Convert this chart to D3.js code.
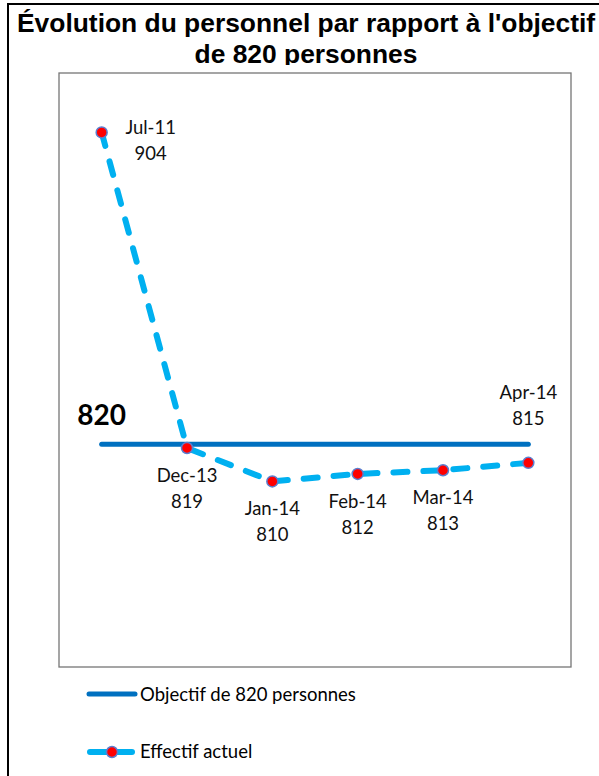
<!DOCTYPE html>
<html>
<head>
<meta charset="utf-8">
<script src="https://cdn.jsdelivr.net/npm/d3@7"></script>
<style>
  body { margin: 0; background: #fff; }
  svg { display: block; }
</style>
</head>
<body>
<script>
// data
var months = ["Jul-11", "Dec-13", "Jan-14", "Feb-14", "Mar-14", "Apr-14"];
var effectif = [904, 819, 810, 812, 813, 815];
var objectif = [820, 820, 820, 820, 820, 820];
var yDomain = [760, 920];
var titleLines = ["Évolution du personnel par rapport à l'objectif", "de 820 personnes"];
var legendNames = ["Objectif de 820 personnes", "Effectif actuel"];

var w = 599, h = 776;
var labelFont = "Lato, 'Open Sans', sans-serif";

var svg = d3.select("body").append("svg")
    .attr("width", w)
    .attr("height", h);

// outer frame (runs off the right and bottom of the picture)
svg.append("rect")
    .attr("x", 8).attr("y", 4)
    .attr("width", 800).attr("height", 900)
    .attr("fill", "none")
    .attr("stroke", "#000")
    .attr("stroke-width", 2);

// title, clipped at the bottom like in the original
svg.append("clipPath").attr("id", "titleclip")
  .append("rect").attr("x", 0).attr("y", 0).attr("width", w).attr("height", 65);

var title = svg.append("g").attr("clip-path", "url(#titleclip)");
title.append("text")
    .attr("x", 17).attr("y", 32)
    .attr("font-family", "'Liberation Sans', Arial, sans-serif")
    .attr("font-weight", "bold")
    .attr("font-size", "26.4px")
    .text(titleLines[0]);
title.append("text")
    .attr("x", 306).attr("y", 63)
    .attr("text-anchor", "middle")
    .attr("font-family", "'Liberation Sans', Arial, sans-serif")
    .attr("font-weight", "bold")
    .attr("font-size", "26.4px")
    .text(titleLines[1]);

// plot area
var plot = {left: 59, right: 571, top: 73, bottom: 667};

svg.append("rect")
    .attr("x", plot.left).attr("y", plot.top)
    .attr("width", plot.right - plot.left)
    .attr("height", plot.bottom - plot.top)
    .attr("fill", "none")
    .attr("stroke", "#767676")
    .attr("stroke-width", 1.3);

var x = d3.scaleBand()
    .domain(months)
    .range([plot.left, plot.right])
    .padding(0);

var y = d3.scaleLinear()
    .domain(yDomain)
    .range([plot.bottom, plot.top]);

var cx = function(d, i){ return x(months[i]) + x.bandwidth() / 2; };

var line = d3.line()
    .x(function(d, i){ return cx(d, i); })
    .y(function(d){ return y(d); });

// target line
svg.append("path")
    .datum(objectif)
    .attr("d", line)
    .attr("fill", "none")
    .attr("stroke", "#0070C0")
    .attr("stroke-width", 5)
    .attr("stroke-linecap", "round");

// actual staff, dashed
svg.append("path")
    .datum(effectif)
    .attr("d", line)
    .attr("fill", "none")
    .attr("stroke", "#00B0F0")
    .attr("stroke-width", 6)
    .attr("stroke-dasharray", "14,16")
    .attr("stroke-linecap", "round");

svg.selectAll("circle.pt")
    .data(effectif)
    .enter()
    .append("circle")
    .attr("class", "pt")
    .attr("cx", cx)
    .attr("cy", function(d){ return y(d); })
    .attr("r", 5.5)
    .attr("fill", "#FF0000")
    .attr("stroke", "#5B7FD0")
    .attr("stroke-width", 1.5);

// point labels: first to the right, last above, others below
var labels = svg.selectAll("text.lbl")
    .data(effectif)
    .enter()
    .append("text")
    .attr("class", "lbl")
    .attr("text-anchor", "middle")
    .attr("font-family", labelFont)
    .attr("font-size", "18.5px")
    .attr("fill", "#111")
    .attr("transform", function(d, i){
        var px = cx(d, i), py = y(d);
        if (i === 0) return "translate(" + (px + 49) + "," + (py + 2) + ")";
        if (i === effectif.length - 1) return "translate(" + px + "," + (py - 64) + ")";
        return "translate(" + px + "," + (py + 34) + ")";
    });

labels.append("tspan")
    .attr("x", 0).attr("y", 0)
    .text(function(d, i){ return months[i]; });
labels.append("tspan")
    .attr("x", 0).attr("y", 26)
    .text(function(d){ return d; });

// big label for the target
svg.append("text")
    .attr("x", cx(objectif[0], 0))
    .attr("y", y(objectif[0]) - 19)
    .attr("text-anchor", "middle")
    .attr("font-family", labelFont)
    .attr("font-weight", "bold")
    .attr("font-size", "28px")
    .text(objectif[0]);

// legend
var lg = svg.append("g");
lg.append("line")
    .attr("x1", 89).attr("x2", 135)
    .attr("y1", 694).attr("y2", 694)
    .attr("stroke", "#0070C0")
    .attr("stroke-width", 5)
    .attr("stroke-linecap", "round");
lg.append("text")
    .attr("x", 140).attr("y", 701)
    .attr("font-family", labelFont)
    .attr("font-size", "18.5px")
    .text(legendNames[0]);

lg.append("line")
    .attr("x1", 90).attr("x2", 132)
    .attr("y1", 752).attr("y2", 752)
    .attr("stroke", "#00B0F0")
    .attr("stroke-width", 6)
    .attr("stroke-linecap", "round");
lg.append("circle")
    .attr("cx", 112).attr("cy", 752)
    .attr("r", 5.5)
    .attr("fill", "#FF0000")
    .attr("stroke", "#5B7FD0")
    .attr("stroke-width", 1.5);
lg.append("text")
    .attr("x", 140).attr("y", 758)
    .attr("font-family", labelFont)
    .attr("font-size", "18.5px")
    .text(legendNames[1]);
</script>
</body>
</html>
